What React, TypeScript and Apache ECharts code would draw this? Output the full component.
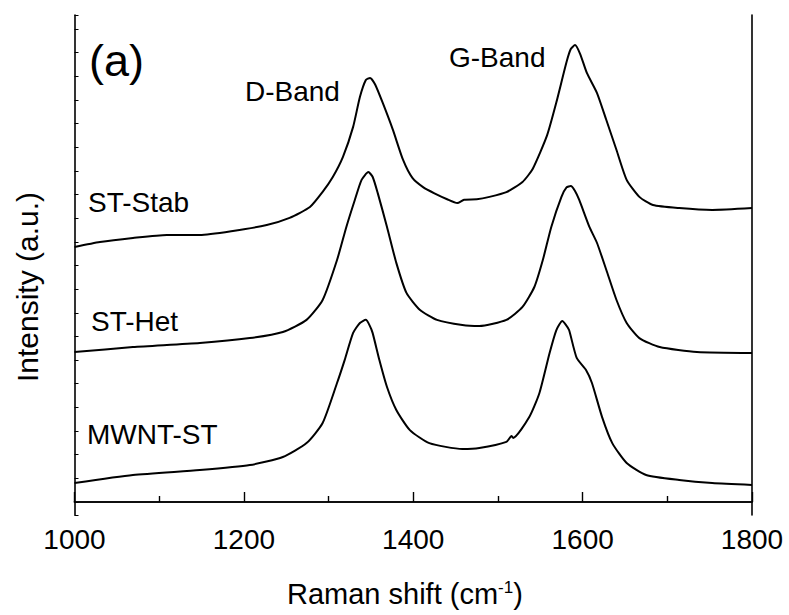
import React, { useEffect, useRef } from "react";
import * as echarts from "echarts";

// Raman shift (cm^-1) and intensity (a.u., offset stacked)
const stStabX = [1000, 1030, 1069, 1109, 1148, 1187, 1227, 1254, 1278, 1293, 1305, 1317, 1329, 1337, 1344, 1349, 1355, 1364, 1376, 1388, 1399, 1412, 1425, 1440, 1452, 1460, 1475, 1490, 1510, 1529, 1541, 1558, 1569, 1581, 1586, 1591, 1597, 1605, 1617, 1628, 1640, 1652, 1667, 1683, 1714, 1753, 1800];
const stStabY = [10.78, 10.99, 11.16, 11.29, 11.29, 11.46, 11.71, 12.01, 12.47, 13.11, 13.74, 14.59, 15.86, 17.12, 17.84, 17.93, 17.65, 16.87, 15.73, 14.46, 13.7, 13.3, 13.05, 12.8, 12.64, 12.78, 12.8, 12.9, 13.1, 13.53, 14.08, 15.5, 16.9, 18.6, 19.15, 19.32, 18.95, 18.14, 17.29, 16.15, 14.88, 13.62, 12.9, 12.56, 12.43, 12.35, 12.43];

const stHetX = [1000, 1069, 1148, 1207, 1246, 1274, 1293, 1310, 1321, 1331, 1339, 1347, 1352, 1358, 1369, 1380, 1392, 1408, 1428, 1458, 1478, 1510, 1529, 1543, 1553, 1563, 1575, 1581, 1586, 1591, 1596, 1608, 1617, 1628, 1640, 1652, 1667, 1691, 1735, 1800];
const stHetY = [6.34, 6.55, 6.72, 6.93, 7.19, 7.7, 8.54, 10.23, 11.63, 12.77, 13.62, 13.95, 13.75, 13.07, 11.63, 10.11, 8.84, 8.12, 7.7, 7.48, 7.44, 7.7, 8.25, 9.09, 10.23, 11.63, 12.9, 13.3, 13.36, 13.15, 12.77, 11.63, 10.95, 9.81, 8.54, 7.57, 6.93, 6.55, 6.34, 6.3];

const mwntX = [1000, 1069, 1148, 1207, 1246, 1274, 1293, 1310, 1319, 1329, 1337, 1344, 1348, 1352, 1360, 1369, 1380, 1396, 1419, 1458, 1478, 1510, 1516, 1518, 1537, 1549, 1561, 1569, 1576, 1580, 1584, 1593, 1604, 1611, 1623, 1635, 1652, 1675, 1714, 1753, 1800];
const mwntY = [0.8, 1.14, 1.35, 1.56, 1.9, 2.49, 3.34, 5.03, 6.0, 7.15, 7.57, 7.7, 7.5, 7.15, 6.0, 4.86, 3.89, 3.04, 2.49, 2.24, 2.28, 2.54, 2.79, 2.71, 3.59, 4.61, 6.3, 7.27, 7.65, 7.5, 7.27, 6.09, 5.58, 5.03, 3.59, 2.49, 1.65, 1.14, 0.93, 0.8, 0.72];

const xTickLabels = ["1000", "1200", "1400", "1600", "1800"];
const sampleNames = ["ST-Stab", "ST-Het", "MWNT-ST"];
const bandNames = ["D-Band", "G-Band"];

const FONT = "Liberation Sans, Arial, Helvetica, sans-serif";

function zip(xs: number[], ys: number[]) {
  return xs.map((x, i) => [x, ys[i]]);
}

export default function App() {
  const ref = useRef<HTMLDivElement>(null);
  useEffect(() => {
    if (!ref.current) return;
    const chart = echarts.init(ref.current, null, { renderer: "svg" });
    const lineStyle = { color: "#000", width: 2 };
    const mkSeries = (name: string, data: number[][]) => ({
      name,
      type: "line",
      data,
      showSymbol: false,
      symbol: "none",
      smooth: 0.2,
      lineStyle,
      silent: true,
    });
    const txt = (text: string, x: number, y: number, size: number) => ({
      type: "text",
      x,
      y,
      style: {
        text,
        fontFamily: FONT,
        fontSize: size,
        fill: "#000",
        align: "left",
        verticalAlign: "middle",
      },
    });
    chart.setOption({
      animation: false,
      backgroundColor: "#fff",
      grid: { left: 74.5, right: 37, top: 15, bottom: 100, containLabel: false },
      xAxis: [
        {
          type: "value",
          min: 1000,
          max: 1800,
          interval: 200,
          axisLine: { show: true, lineStyle: { color: "#000", width: 1.6 } },
          axisTick: { show: true, inside: true, length: 10, lineStyle: { color: "#000", width: 1.4 } },
          minorTick: { show: true, splitNumber: 2, length: 6, lineStyle: { color: "#000", width: 1.4 } },
          splitLine: { show: false },
          axisLabel: {
            color: "#000",
            fontFamily: FONT,
            fontSize: 28,
            margin: 10,
            formatter: (v: number) => (xTickLabels.includes(String(v)) ? String(v) : ""),
          },
        },
        {
          type: "value",
          position: "top",
          min: 1000,
          max: 1800,
          axisLine: { show: true, lineStyle: { color: "#000", width: 1.6 } },
          axisTick: { show: false },
          axisLabel: { show: false },
          splitLine: { show: false },
        },
      ],
      yAxis: [
        {
          type: "value",
          min: -0.55,
          max: 20.59,
          splitNumber: 21,
          axisLine: { show: true, lineStyle: { color: "#000", width: 1.6 } },
          axisTick: { show: true, inside: true, length: 4, lineStyle: { color: "#000", width: 1 } },
          axisLabel: { show: false },
          splitLine: { show: false },
        },
        {
          type: "value",
          position: "right",
          min: -0.55,
          max: 20.59,
          axisLine: { show: true, lineStyle: { color: "#000", width: 1.6 } },
          axisTick: { show: false },
          axisLabel: { show: false },
          splitLine: { show: false },
        },
      ],
      series: [
        mkSeries(sampleNames[0], zip(stStabX, stStabY)),
        mkSeries(sampleNames[1], zip(stHetX, stHetY)),
        mkSeries(sampleNames[2], zip(mwntX, mwntY)),
      ],
      graphic: [
        txt("(a)", 89, 60, 45),
        txt(bandNames[0], 245, 91, 28),
        txt(bandNames[1], 449, 57.5, 28),
        txt(sampleNames[0], 88, 202, 28),
        txt(sampleNames[1], 91, 321, 28),
        txt(sampleNames[2], 87, 434, 28),
        {
          type: "text",
          x: 287,
          y: 594,
          style: {
            text: "{a|Raman shift (cm}{s|-1}{a|)}",
            fontFamily: FONT,
            fill: "#000",
            align: "left",
            verticalAlign: "middle",
            rich: {
              a: { fontFamily: FONT, fontSize: 29, fill: "#000", color: "#000" },
              s: { fontFamily: FONT, fontSize: 17, fill: "#000", color: "#000", verticalAlign: "top", padding: [0, 0, 14, 0] },
            },
          },
        },
        {
          type: "text",
          x: 27,
          y: 287,
          rotation: Math.PI / 2,
          style: {
            text: "Intensity (a.u.)",
            fontFamily: FONT,
            fontSize: 30,
            fill: "#000",
            align: "center",
            verticalAlign: "middle",
          },
        },
      ],
    });
    return () => chart.dispose();
  }, []);
  return <div ref={ref} style={{ width: 789, height: 615, position: "absolute", left: 0, top: 0 }} />;
}
